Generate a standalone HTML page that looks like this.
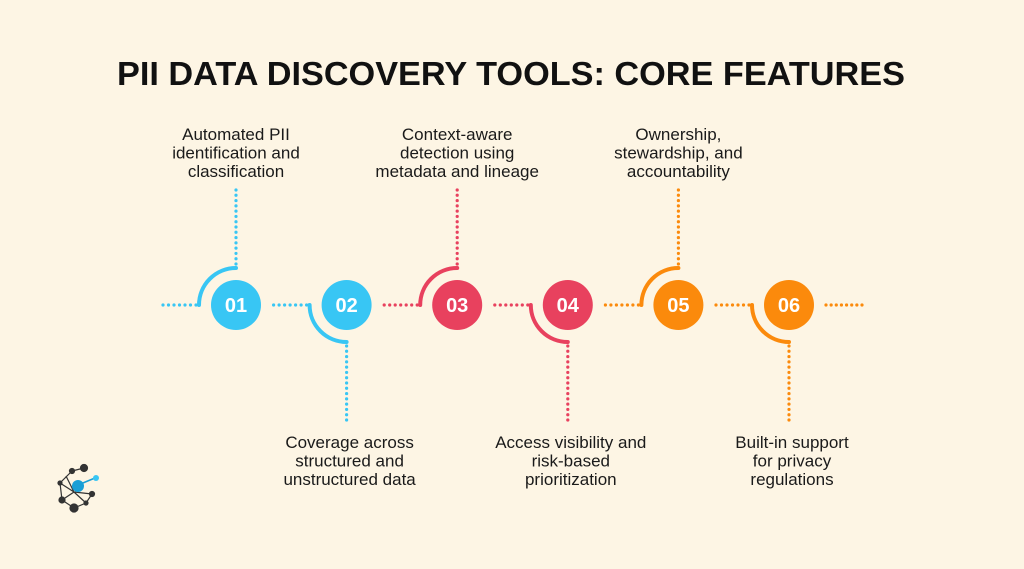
<!DOCTYPE html>
<html><head><meta charset="utf-8"><style>
html,body{margin:0;padding:0;background:#fdf5e4;}
svg{display:block;}
text{font-family:"Liberation Sans",sans-serif;}
</style></head><body>
<svg id="s" width="1024" height="569" viewBox="0 0 1024 569">
<rect width="1024" height="569" fill="#fdf5e4"/>
<text x="511" y="85" text-anchor="middle" font-size="33" font-weight="bold" fill="#111" textLength="788" lengthAdjust="spacingAndGlyphs">PII DATA DISCOVERY TOOLS: CORE FEATURES</text>
<g stroke="#333" stroke-width="1.2" fill="none">
<path d="M72 471 L60 483 L62 500 L74 508 L86 503 L92 494 M72 471 L84 468 M60 483 L74 492 L86 503 M62 500 L74 492 L92 494 M66 476 L74 492"/>
<circle cx="84" cy="468" r="3.5" fill="#333"/><circle cx="72" cy="471" r="2.5" fill="#333"/><circle cx="60" cy="483" r="2" fill="#333"/>
<circle cx="62" cy="500" r="3" fill="#333"/><circle cx="74" cy="508" r="4" fill="#333"/><circle cx="92" cy="494" r="2.5" fill="#333"/><circle cx="86" cy="503" r="2" fill="#333"/>
<line x1="78" y1="485" x2="95" y2="478" stroke="#1a9fd6" stroke-width="1.5"/>
<circle cx="78" cy="486" r="6" fill="#1a9fd6" stroke="none"/><circle cx="96" cy="478" r="3" fill="#38c6f4" stroke="none"/>
</g>
<g id="steps"></g>
</svg>
<script>
const labels = ["01","02","03","04","05","06"];
const colors = ["#38c6f4","#38c6f4","#e8415e","#e8415e","#fb8a0c","#fb8a0c"];
const texts = [
 ["Automated PII","identification and","classification"],
 ["Coverage across","structured and","unstructured data"],
 ["Context-aware","detection using","metadata and lineage"],
 ["Access visibility and","risk-based","prioritization"],
 ["Ownership,","stewardship, and","accountability"],
 ["Built-in support","for privacy","regulations"]
];
const NS="http://www.w3.org/2000/svg";
const g=document.getElementById('steps');
function mk(tag,attrs,parent){const e=document.createElementNS(NS,tag);for(const k in attrs)e.setAttribute(k,attrs[k]);(parent||g).appendChild(e);return e;}
const cy=305, x0=236, dx=110.6, R=25, A=37;
function dots(x1,y1,x2,y2,c,name){
  const n=Math.round(Math.hypot(x2-x1,y2-y1)/5.2);
  const grp=mk('g',{});
  
  
  for(let i=0;i<=n;i++){const d=mk('circle',{cx:x1+(x2-x1)*i/n,cy:y1+(y2-y1)*i/n,r:1.6,fill:c},grp);}
}
labels.forEach((lab,i)=>{
  const cx=x0+i*dx, c=colors[i], up=i%2===0;
  dots(cx-73,cy,cx-40,cy,c,'connector-'+lab);
  const arc=mk('path',{d: up?`M${cx-A} ${cy} A${A} ${A} 0 0 1 ${cx} ${cy-A}`:`M${cx-A} ${cy} A${A} ${A} 0 0 0 ${cx} ${cy+A}`,stroke:c,'stroke-width':4,fill:'none','stroke-linecap':'round'});
  
  
  if(up) dots(cx,cy-A-4,cx,190,c,'stem-'+lab); else dots(cx,cy+A+4,cx,420,c,'stem-'+lab);
  const circ=mk('circle',{cx:cx,cy:cy,r:R,fill:c});
  
  
  const t=mk('text',{x:cx,y:cy+7,'text-anchor':'middle','font-size':20,'font-weight':'bold',fill:'#fff'});
  t.textContent=lab;
  
  
  const ty= up?140:448;
  const tt=mk('text',{x:up?cx:cx+3,'text-anchor':'middle','font-size':17,fill:'#1a1a1a'});
  
  
  texts[i].forEach((line,j)=>{const sp=mk('tspan',{x:up?cx:cx+3,y:ty+j*18.5},tt);sp.textContent=line;});
});
dots(826,cy,862,cy,colors[5],'connector-end');
</script>
</body></html>
